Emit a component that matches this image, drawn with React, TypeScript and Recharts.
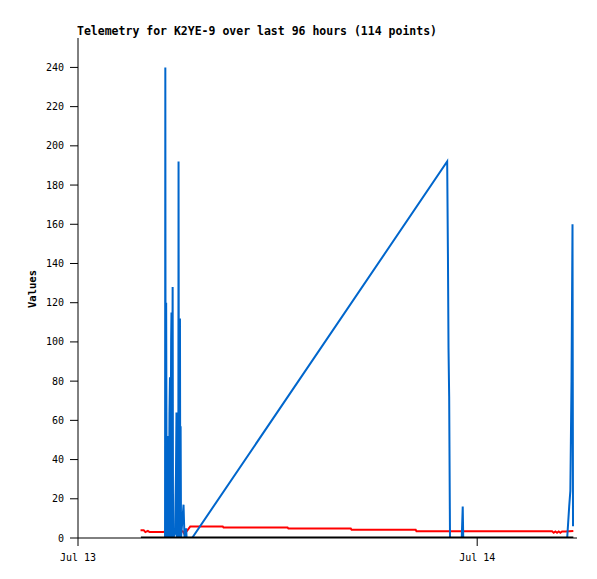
import React from 'react';
import { LineChart, Line, XAxis, YAxis } from 'recharts';

const titleText = 'Telemetry for K2YE-9 over last 96 hours (114 points)';
const yLabel = 'Values';
const xTickHours = [0, 24];
const xTickLabels = ['Jul 13', 'Jul 14'];
const yTicks = [0, 20, 40, 60, 80, 100, 120, 140, 160, 180, 200, 220, 240];

const blueHours = [5.233, 5.25, 5.27, 5.3, 5.33, 5.36, 5.4, 5.43, 5.46, 5.5, 5.53, 5.55, 5.6, 5.62, 5.64, 5.69, 5.715, 5.83, 5.89, 5.92, 5.95, 6.03, 6.045, 6.07, 6.1, 6.13, 6.15, 6.17, 6.195, 6.345, 6.375, 6.405, 6.5, 6.53, 6.86, 22.195, 22.24, 22.275, 22.315, 22.365, 23.07, 23.1, 23.13, 23.16, 29.41, 29.47, 29.53, 29.6, 29.67, 29.73, 29.76];
const blueValues = [0, 240, 0, 120, 8, 0, 52, 28, 0, 64, 82, 0, 101, 115, 0, 128, 0, 2, 33, 64, 0, 0, 192, 0, 108, 112, 0, 57, 0, 17, 8, 0, 5, 0, 0, 192, 145, 97, 72, 0, 0, 8, 16, 0, 0, 8, 16, 24, 80, 160, 6];

const redHours = [3.76, 3.95, 4.05, 4.2, 4.3, 5.1, 5.5, 6.3, 6.4, 6.5, 6.75, 8.7, 8.75, 12.6, 12.65, 16.4, 16.45, 20.3, 20.35, 28.5, 28.6, 28.7, 28.8, 28.9, 29.0, 29.1, 29.3, 29.78];
const redValues = [4, 4, 3, 3.6, 3, 3, 3.4, 3.4, 2, 3, 5.9, 5.9, 5.3, 5.3, 4.8, 4.8, 4.2, 4.2, 3.4, 3.4, 2.7, 3.3, 2.7, 3.3, 2.7, 3.3, 3.3, 3.6];

const blackHours = [3.78, 29.78];
const blackValues = [0, 0];

const build = (hs: number[], vs: number[]) => hs.map((t, i) => ({ t, v: vs[i] }));
const blueData = build(blueHours, blueValues);
const redData = build(redHours, redValues);
const blackData = build(blackHours, blackValues);

const font = '"DejaVu Sans Mono", monospace';

export default function App() {
  return (
    <div style={{ position: 'absolute', left: 0, top: 0, width: 597, height: 579, background: '#fff' }}>
      <div style={{ position: 'absolute', left: 77, top: 24, fontFamily: font, fontWeight: 'bold', fontSize: 11.5, color: '#000', whiteSpace: 'nowrap' }}>
        {titleText}
      </div>
      <div style={{ position: 'absolute', left: 32, top: 289, transform: 'translate(-50%, -50%) rotate(-90deg)', fontFamily: font, fontWeight: 'bold', fontSize: 10.5, color: '#000', whiteSpace: 'nowrap' }}>
        {yLabel}
      </div>
      <LineChart width={597} height={579} margin={{ top: 38, right: 20, bottom: 11, left: 0 }}>
        <XAxis
          dataKey="t"
          type="number"
          domain={[0, 30]}
          ticks={xTickHours}
          tickFormatter={(h: number) => xTickLabels[xTickHours.indexOf(h)]}
          height={30}
          tickSize={8}
          tickMargin={8}
          axisLine={{ stroke: '#000' }}
          tickLine={{ stroke: '#000' }}
          tick={{ fill: '#000', fontFamily: font, fontSize: 10 }}
          allowDataOverflow
        />
        <XAxis xAxisId="top" orientation="top" type="number" domain={[0, 30]} height={0} tick={false} tickLine={false} axisLine={{ stroke: '#666' }} />
        <YAxis
          type="number"
          domain={[0, 255]}
          ticks={yTicks}
          width={78}
          tickSize={8}
          tickMargin={6}
          axisLine={{ stroke: '#000' }}
          tickLine={{ stroke: '#000' }}
          tick={{ fill: '#000', fontFamily: font, fontSize: 10 }}
          allowDataOverflow
        />
        <YAxis yAxisId="right" orientation="right" type="number" domain={[0, 255]} width={0} tick={false} tickLine={false} axisLine={{ stroke: '#666' }} />
        <Line data={redData} dataKey="v" stroke="#ff0000" strokeWidth={2} dot={false} isAnimationActive={false} />
        <Line data={blueData} dataKey="v" stroke="#0066cc" strokeWidth={2} dot={false} isAnimationActive={false} strokeLinejoin="miter" />
        <Line data={blackData} dataKey="v" stroke="#000000" strokeWidth={3} dot={false} isAnimationActive={false} />
      </LineChart>
    </div>
  );
}
